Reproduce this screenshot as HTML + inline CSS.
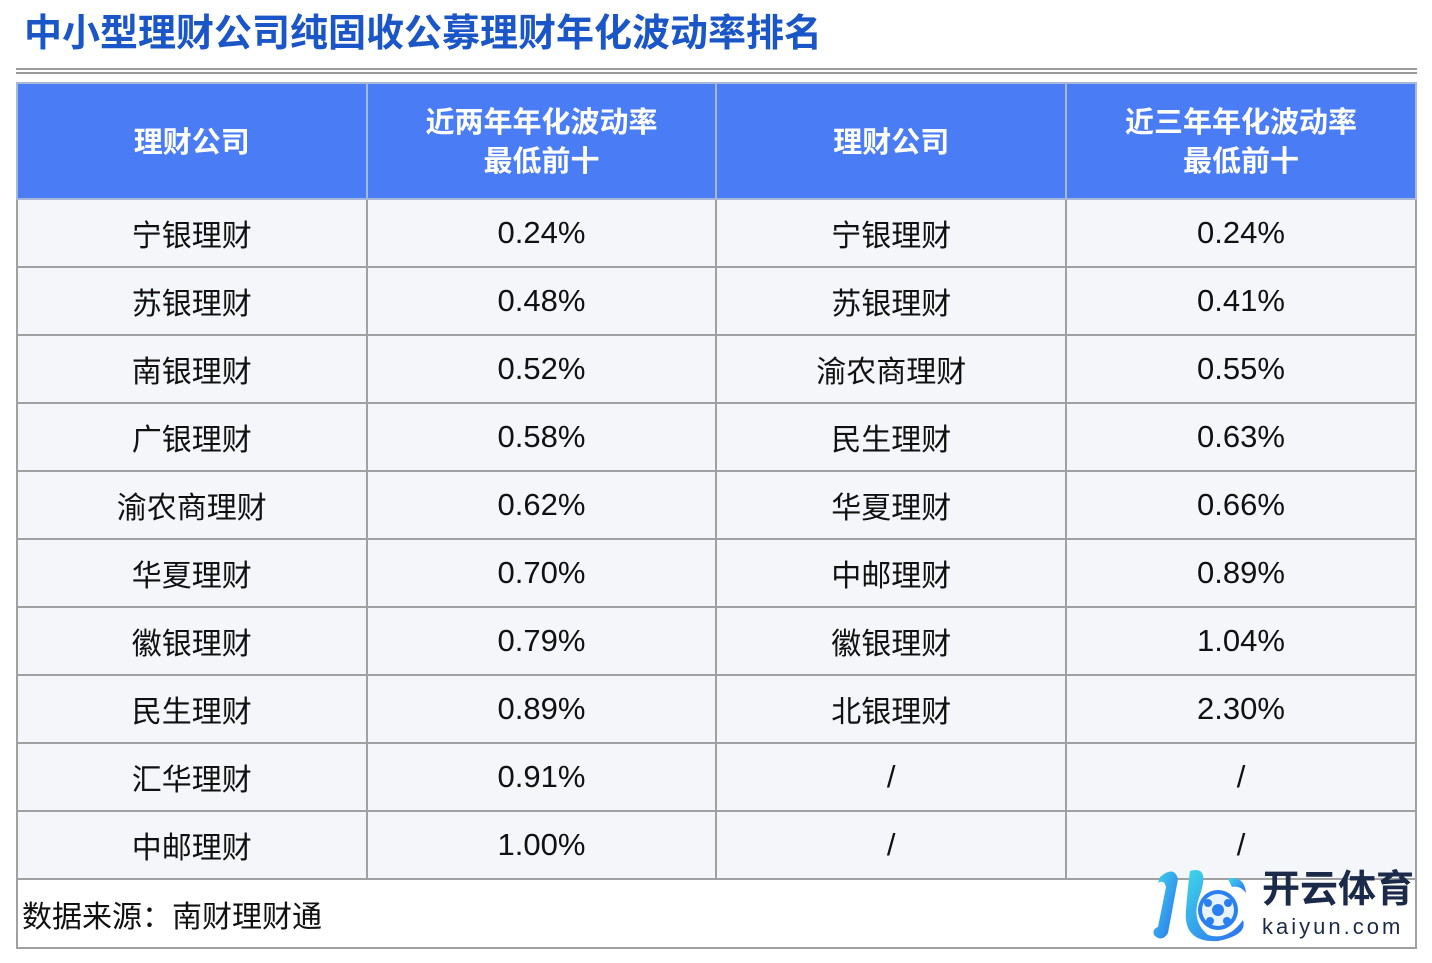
<!DOCTYPE html>
<html><head><meta charset="utf-8"><style>
body{margin:0;width:1432px;height:963px;background:#fff;position:relative;overflow:hidden;font-family:"Liberation Sans","Noto Sans CJK SC",sans-serif;}
.title{position:absolute;left:24px;top:11px;font-size:38px;font-weight:bold;color:#1a56c8;white-space:nowrap;line-height:46px;}
.l{position:absolute;left:16px;width:1401px;height:2px;background:#9a9a9a;}
table{position:absolute;left:16px;top:82px;border-collapse:collapse;width:1401px;}
td,th{border:2px solid #a0a0a0;text-align:center;width:350px;padding:0;}
th{background:#4a7cf5;color:#fff;font-size:29px;font-weight:bold;height:110px;padding-top:4px;line-height:39px;border-color:#a8b8d8;}
td{background:#f4f6fa;height:66px;font-size:30px;color:#111;}
td span{font-size:31px;}
td.f{text-align:left;padding-left:4px;font-size:30px;height:67px;}
.logo{position:absolute;left:1148px;top:865px;}
</style></head><body>
<div class="title">中小型理财公司纯固收公募理财年化波动率排名</div>
<div class="l" style="top:68px"></div><div class="l" style="top:72px"></div>
<table>
<tr><th>理财公司</th><th>近两年年化波动率<br>最低前十</th><th>理财公司</th><th>近三年年化波动率<br>最低前十</th></tr>
<tr><td>宁银理财</td><td><span>0.24%</span></td><td>宁银理财</td><td><span>0.24%</span></td></tr>
<tr><td>苏银理财</td><td><span>0.48%</span></td><td>苏银理财</td><td><span>0.41%</span></td></tr>
<tr><td>南银理财</td><td><span>0.52%</span></td><td>渝农商理财</td><td><span>0.55%</span></td></tr>
<tr><td>广银理财</td><td><span>0.58%</span></td><td>民生理财</td><td><span>0.63%</span></td></tr>
<tr><td>渝农商理财</td><td><span>0.62%</span></td><td>华夏理财</td><td><span>0.66%</span></td></tr>
<tr><td>华夏理财</td><td><span>0.70%</span></td><td>中邮理财</td><td><span>0.89%</span></td></tr>
<tr><td>徽银理财</td><td><span>0.79%</span></td><td>徽银理财</td><td><span>1.04%</span></td></tr>
<tr><td>民生理财</td><td><span>0.89%</span></td><td>北银理财</td><td><span>2.30%</span></td></tr>
<tr><td>汇华理财</td><td><span>0.91%</span></td><td><span>/</span></td><td><span>/</span></td></tr>
<tr><td>中邮理财</td><td><span>1.00%</span></td><td><span>/</span></td><td><span>/</span></td></tr>
<tr><td class="f" colspan="4" style="background:#fff">数据来源：南财理财通</td></tr>
</table>
<div class="logo">
<svg width="110" height="78" viewBox="0 0 110 78">
<defs><linearGradient id="g" x1="0" y1="0" x2="1" y2="1"><stop offset="0" stop-color="#3fd6e8"/><stop offset="1" stop-color="#2a6ef0"/></linearGradient></defs>
<path d="M12 12 Q26 0 30 14 L20 68 Q14 78 6 70 Q4 64 10 62 L18 22 Q16 14 10 18 Z" fill="url(#g)"/>
<path d="M42 6 Q62 0 52 30 Q42 55 60 70 Q80 76 95 55 Q100 70 70 76 Q35 78 38 45 Q40 20 42 6Z" fill="url(#g)"/>
<path d="M80 14 Q96 10 98 28 Q92 20 84 22Z" fill="url(#g)"/>
<circle cx="70" cy="45" r="20" fill="#2a80f0"/><circle cx="70" cy="45" r="16" fill="#e8f3ff"/>
<circle cx="70" cy="45" r="6" fill="#2a80f0"/><circle cx="60" cy="38" r="4" fill="#2a80f0"/><circle cx="80" cy="38" r="4" fill="#2a80f0"/><circle cx="62" cy="56" r="4" fill="#2a80f0"/><circle cx="79" cy="56" r="4" fill="#2a80f0"/>
</svg>
</div>
<div style="position:absolute;left:1262px;top:868px;font-size:38px;font-weight:bold;color:#1c2a4a;line-height:44px;">开云体育</div>
<div style="position:absolute;left:1262px;top:914px;font-size:22px;color:#1c2a4a;letter-spacing:3px;line-height:26px;">kaiyun.com</div>
</body></html>
